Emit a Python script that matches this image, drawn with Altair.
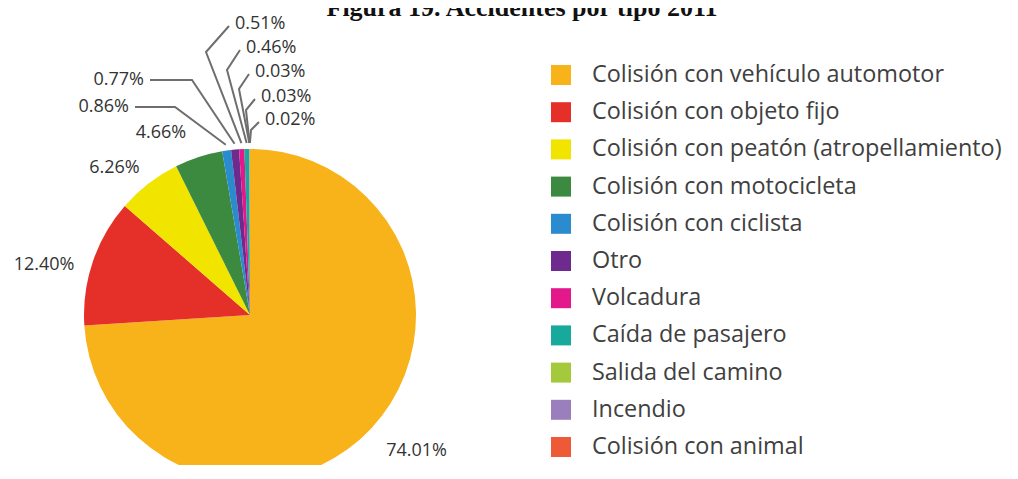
import altair as alt
import numpy as np
import pandas as pd

# ---------------- data ----------------
categories = [
    "Colisión con vehículo automotor",
    "Colisión con objeto fijo",
    "Colisión con peatón (atropellamiento)",
    "Colisión con motocicleta",
    "Colisión con ciclista",
    "Otro",
    "Volcadura",
    "Caída de pasajero",
    "Salida del camino",
    "Incendio",
    "Colisión con animal",
]
values = [74.01, 12.40, 6.26, 4.66, 0.86, 0.77, 0.51, 0.46, 0.03, 0.03, 0.02]
colors = ["#F8B21A", "#E5302A", "#F1E500", "#3C8A3F", "#2B8BCF", "#6D2B8D",
          "#E2188B", "#17A99B", "#A4C93C", "#9B7FBC", "#EE5A38"]
title_text = "Figura 19. Accidentes por tipo 2011"

# ---------------- layout (page pixels) ----------------
W, H, M = 1000, 457, 8          # plot size and page margin
CX, CY, R = 250, 315, 166       # pie centre and radius
FONT = "Open Sans"
TXT = "#333333"

labels = [f"{v:.2f}%" for v in values]
vals = np.array(values)
total = vals.sum()
start_deg = (np.cumsum(vals) - vals) / total * 360.0
mid_deg = start_deg + vals / total * 180.0


def polar(deg, r):
    a = np.deg2rad(deg)
    return CX + r * np.sin(a), CY - r * np.cos(a)


pie = pd.DataFrame({"cat": categories, "value": values, "idx": range(len(values))})

# large-slice labels: (angle nudge, radius)
big_layout = {0: (-4.0, 215), 1: (-5.0, 212), 2: (-5.0, 200), 3: (-8.0, 203)}
big_rows = []
for i, (nudge, rad) in big_layout.items():
    x, y = polar(mid_deg[i] + nudge, rad)
    big_rows.append({"x": x, "y": y, "t": labels[i]})
big = pd.DataFrame(big_rows)

# small-slice leader lines: elbow, end of line, text anchor, side
small_layout = {
    4: ((175, 107), (135, 107), (129, 107), "right"),
    5: ((192, 80), (150, 80), (144, 80), "right"),
    6: ((206, 52), (229, 26), (235, 24), "left"),
    7: ((227, 70), (240, 50), (246, 48), "left"),
    8: ((239, 89), (249, 74), (255, 72), "left"),
    9: ((246, 110), (255, 99), (261, 97), "left"),
    10: ((251, 130), (259, 122), (265, 120), "left"),
}
line_rows, small_rows = [], []
for i, (elbow, end, tpos, side) in small_layout.items():
    p0 = polar(mid_deg[i], R + 6)
    for s, (px, py) in enumerate([p0, elbow, end]):
        line_rows.append({"k": i, "s": s, "x": px, "y": py})
    small_rows.append({"x": tpos[0], "y": tpos[1], "t": labels[i], "side": side})
lines = pd.DataFrame(line_rows)
small = pd.DataFrame(small_rows)

legend = pd.DataFrame({
    "cat": categories,
    "y": [75 + 37.2 * i for i in range(len(categories))],
    "xs": 561,
    "xt": 592,
})

title_df = pd.DataFrame({"x": [522], "y": [16], "t": [title_text]})

xs = alt.Scale(domain=[M, M + W], range=[0, W], nice=False, zero=False)
ys = alt.Scale(domain=[M, M + H], range=[0, H], nice=False, zero=False)
cscale = alt.Scale(domain=categories, range=colors)


def X(f):
    return alt.X(f"{f}:Q", scale=xs, axis=None)


def Y(f):
    return alt.Y(f"{f}:Q", scale=ys, axis=None)


arc = alt.Chart(pie).mark_arc(radius=R, stroke=None).encode(
    theta=alt.Theta("value:Q", stack=True),
    color=alt.Color("cat:N", scale=cscale, legend=None),
    order=alt.Order("idx:Q"),
    x=alt.value(CX - M),
    y=alt.value(CY - M),
)

big_text = alt.Chart(big).mark_text(
    font=FONT, fontSize=18, color=TXT, align="center", baseline="middle"
).encode(x=X("x"), y=Y("y"), text="t:N")

leaders = alt.Chart(lines).mark_line(color="#6E6E6E", strokeWidth=2).encode(
    x=X("x"), y=Y("y"), detail="k:N", order="s:Q"
)

small_right = alt.Chart(small[small.side == "right"]).mark_text(
    font=FONT, fontSize=18, color=TXT, align="right", baseline="middle"
).encode(x=X("x"), y=Y("y"), text="t:N")

small_left = alt.Chart(small[small.side == "left"]).mark_text(
    font=FONT, fontSize=18, color=TXT, align="left", baseline="middle"
).encode(x=X("x"), y=Y("y"), text="t:N")

leg_sq = alt.Chart(legend).mark_square(size=400, opacity=1).encode(
    x=X("xs"), y=Y("y"), color=alt.Color("cat:N", scale=cscale, legend=None)
)

leg_txt = alt.Chart(legend).mark_text(
    font=FONT, fontSize=23.4, color="#404040", align="left", baseline="middle"
).encode(x=X("xt"), y=Y("y"), text="cat:N")

title = alt.Chart(title_df).mark_text(
    font="Liberation Serif", fontWeight="bold", fontSize=26, color="#111111",
    align="center", baseline="alphabetic"
).encode(x=X("x"), y=Y("y"), text="t:N")

chart = alt.layer(
    arc, leaders, big_text, small_right, small_left, leg_sq, leg_txt, title
).properties(
    width=W, height=H, padding=0, autosize=alt.AutoSizeParams(type="none")
).configure_view(stroke=None)

chart.save("out.html", embed_options={"renderer": "svg", "actions": False})
